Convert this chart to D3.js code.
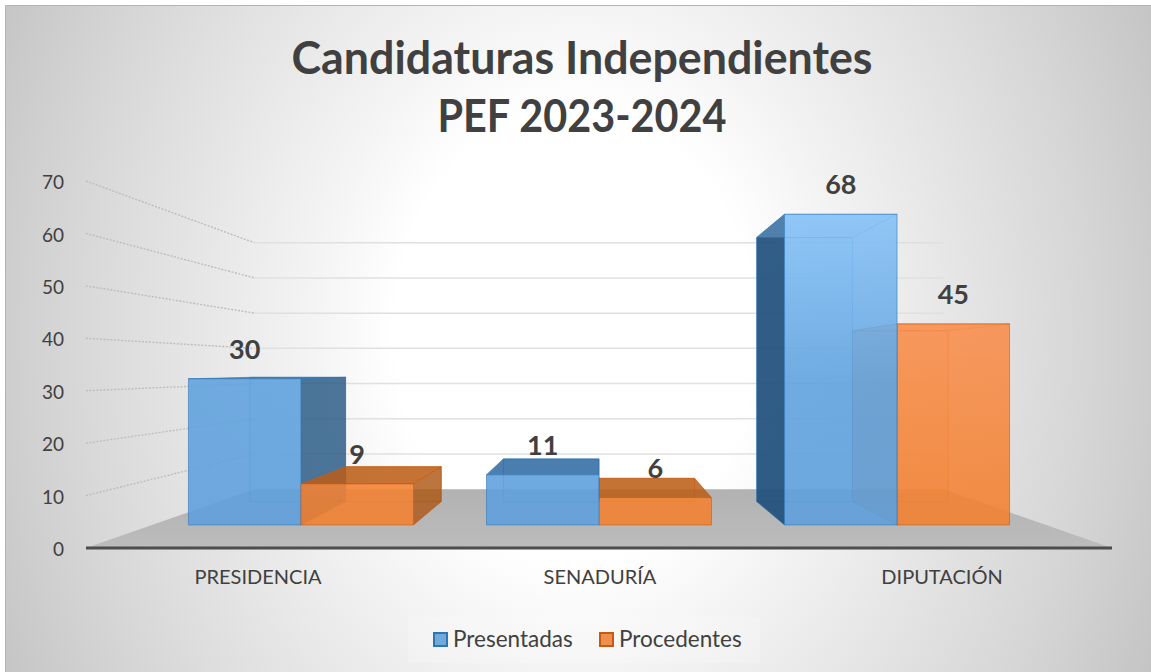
<!DOCTYPE html>
<html>
<head>
<meta charset="utf-8">
<script src="https://cdn.jsdelivr.net/npm/d3@7"></script>
<style>
  html, body { margin: 0; padding: 0; background: #fff; }
  svg { display: block; }
  text { font-family: Lato, "Open Sans", sans-serif; fill: #404040; }
</style>
</head>
<body>
<div id="graph1"></div>
<script>
var titleLines = ["Candidaturas Independientes", "PEF 2023-2024"];
var categories = ["PRESIDENCIA", "SENADURÍA", "DIPUTACIÓN"];
var seriesNames = ["Presentadas", "Procedentes"];
var yTicks = [0, 10, 20, 30, 40, 50, 60, 70];

// printed labels
var presentadas = [30, 11, 68];
var procedentes = [9, 6, 45];
// heights as drawn in the picture (the 30 bar really stands near 32, the 45 near 44)
var presentadasDrawn = [32, 11, 68];
var procedentesDrawn = [9, 6, 44];

function main() {
    var width = 1151, height = 672;

    // fake 3d: everything goes through one vanishing point
    var vx = 599, vy = 369;
    var depth = {front: 1, barFront: 0.8715, barBack: 0.741, wall: 0.672};

    var yWorld = d3.scaleLinear().domain([0, 70]).range([179, -188]);
    var xCat = d3.scaleBand().domain(categories).range([-513, 513])
        .paddingInner(0.245).paddingOuter(0.1225);
    var xSeries = d3.scaleBand().domain(seriesNames).range([0, xCat.bandwidth()]);

    function project(x, v, s) {
        return [vx + x * s, vy + yWorld(v) * s];
    }
    var path = d3.line();

    var svg = d3.select("#graph1").append("svg")
        .attr("width", width)
        .attr("height", height);

    var defs = svg.append("defs");
    var bg = defs.append("radialGradient")
        .attr("id", "bg")
        .attr("gradientUnits", "userSpaceOnUse")
        .attr("cx", 0).attr("cy", 0).attr("r", 1)
        .attr("gradientTransform", "translate(575,335) scale(640,800)");
    [[0, "#ffffff"], [0.28, "#ffffff"], [0.41, "#f4f4f4"], [0.8, "#d6d6d6"], [0.9, "#cdcdcd"], [1, "#c4c4c4"]]
        .forEach(function(s) {
            bg.append("stop").attr("offset", s[0]).attr("stop-color", s[1]);
        });

    var floorFill = defs.append("linearGradient")
        .attr("id", "floorFill").attr("x1", 0).attr("y1", 0).attr("x2", 0).attr("y2", 1);
    floorFill.append("stop").attr("offset", 0).attr("stop-color", "#b2b2b2");
    floorFill.append("stop").attr("offset", 1).attr("stop-color", "#bcbcbc");

    // bars get lighter the higher they go
    function faceGradient(id, stops) {
        var g = defs.append("linearGradient")
            .attr("id", id)
            .attr("gradientUnits", "userSpaceOnUse")
            .attr("x1", 0).attr("y1", 212).attr("x2", 0).attr("y2", 525);
        stops.forEach(function(s) {
            g.append("stop").attr("offset", s[0]).attr("stop-color", s[1]);
        });
    }
    faceGradient("blueFace", [[0, "#85c2f8"], [0.55, "#60a2de"], [1, "#5e9fdc"]]);
    faceGradient("orangeFace", [[0.3, "#f99050"], [1, "#f2802f"]]);

    svg.append("rect")
        .attr("x", 6).attr("y", 5)
        .attr("width", width - 6).attr("height", height - 5)
        .attr("fill", "url(#bg)");
    svg.append("path")
        .attr("d", "M5.5,672V5.5H1151")
        .attr("fill", "none")
        .attr("stroke", "#b4b4b4")
        .attr("stroke-width", 1);

    // title
    var titleWidths = [581, 289];
    svg.selectAll(".title")
        .data(titleLines)
        .enter().append("text")
        .attr("class", "title")
        .attr("x", 582)
        .attr("y", function(d, i) { return 74 + i * 58; })
        .attr("text-anchor", "middle")
        .attr("font-weight", 700)
        .attr("font-size", 45)
        .attr("textLength", function(d, i) { return titleWidths[i]; })
        .attr("lengthAdjust", "spacingAndGlyphs")
        .text(function(d) { return d; });

    var left = xCat.range()[0], right = xCat.range()[1];

    // left wall, dotted
    svg.selectAll(".wallLine")
        .data(yTicks.slice(1))
        .enter().append("path")
        .attr("class", "wallLine")
        .attr("d", function(d) {
            return path([project(left, d, depth.front), project(left, d, depth.wall)]);
        })
        .attr("fill", "none")
        .attr("stroke", "#bdbdbd")
        .attr("stroke-width", 1.4)
        .attr("stroke-dasharray", "2,1.5");

    // back wall
    svg.selectAll(".gridLine")
        .data(yTicks.slice(1))
        .enter().append("path")
        .attr("class", "gridLine")
        .attr("d", function(d) {
            return path([project(left, d, depth.wall), project(right, d, depth.wall)]);
        })
        .attr("fill", "none")
        .attr("stroke", "#e0e0e0")
        .attr("stroke-width", 1.5);

    // floor
    svg.append("path")
        .attr("d", path([
            project(left, 0, depth.front), project(right, 0, depth.front),
            project(right, 0, depth.wall), project(left, 0, depth.wall)
        ]) + "Z")
        .attr("fill", "url(#floorFill)");
    svg.append("path")
        .attr("d", path([project(left, 0, depth.front), project(right, 0, depth.front)]))
        .attr("stroke", "#4d4d4d")
        .attr("stroke-width", 3);

    // bars
    var palette = {
        Presentadas: {face: "url(#blueFace)", swatch: "#5b9bd5", side: "#1f4e79", top: "#2a659c", line: "#2e75b6", rightSide: 0.9},
        Procedentes: {face: "url(#orangeFace)", swatch: "#ed7d31", side: "#a5500f", top: "#b85a14", line: "#c55a11", rightSide: 0.3}
    };

    var bars = [];
    categories.forEach(function(c, i) {
        bars.push({cat: c, name: seriesNames[0], drawn: presentadasDrawn[i], label: presentadas[i]});
        bars.push({cat: c, name: seriesNames[1], drawn: procedentesDrawn[i], label: procedentes[i]});
    });
    bars.forEach(function(b) {
        b.x0 = xCat(b.cat) + xSeries(b.name);
        b.x1 = b.x0 + xSeries.bandwidth();
        b.mid = (b.x0 + b.x1) / 2;
    });
    // far from the centre goes first, so the inner bar lies over it
    bars.sort(function(a, b) { return Math.abs(b.mid) - Math.abs(a.mid); });

    function drawBar(b) {
        var f = depth.barFront, k = depth.barBack, col = palette[b.name];
        var g = svg.append("g");
        function face(pts, fill, alpha, edge) {
            g.append("path")
                .attr("d", path(pts) + "Z")
                .attr("fill", fill)
                .attr("fill-opacity", alpha)
                .attr("stroke", edge ? col.line : "none")
                .attr("stroke-opacity", 0.55)
                .attr("stroke-width", 1);
        }
        var v = b.drawn;
        // back
        face([project(b.x0, 0, k), project(b.x1, 0, k), project(b.x1, v, k), project(b.x0, v, k)], col.face, 0.35, true);
        // floor of the bar
        face([project(b.x0, 0, f), project(b.x1, 0, f), project(b.x1, 0, k), project(b.x0, 0, k)], col.face, 0.25, false);
        // the far side is seen through the front, the near side is dark
        var leftOfCentre = b.mid < 0;
        var outer = leftOfCentre ? b.x0 : b.x1;
        var inner = leftOfCentre ? b.x1 : b.x0;
        face([project(outer, 0, f), project(outer, 0, k), project(outer, v, k), project(outer, v, f)], col.face, 0.25, false);
        if (Math.abs(inner) > 1) {
            face([project(inner, 0, f), project(inner, 0, k), project(inner, v, k), project(inner, v, f)],
                col.side, leftOfCentre ? 0.72 : col.rightSide, true);
        }
        // top
        var topAbove = yWorld(v) > 0;
        face([project(b.x0, v, f), project(b.x1, v, f), project(b.x1, v, k), project(b.x0, v, k)],
            topAbove ? col.top : col.face, topAbove ? 0.8 : 0.35, true);
        // front
        face([project(b.x0, 0, f), project(b.x1, 0, f), project(b.x1, v, f), project(b.x0, v, f)], col.face, 0.85, true);
    }
    bars.forEach(drawBar);

    // value labels
    svg.selectAll(".valueLabel")
        .data(bars)
        .enter().append("text")
        .attr("class", "valueLabel")
        .attr("x", function(d) { return project(d.mid, d.drawn, depth.barFront)[0]; })
        .attr("y", function(d) { return project(d.mid, d.drawn, depth.barFront)[1] - 20; })
        .attr("text-anchor", "middle")
        .attr("font-weight", 700)
        .attr("font-size", 27)
        .text(function(d) { return d.label; });

    // axes
    var yFront = d3.scaleLinear().domain([0, 70]).range([vy + yWorld(0), vy + yWorld(70)]);
    var yAxis = svg.append("g")
        .attr("transform", "translate(64,1.5)")
        .call(d3.axisLeft(yFront).tickValues(yTicks).tickSize(0).tickPadding(0));
    yAxis.select(".domain").remove();
    yAxis.selectAll("text")
        .attr("font-size", 19)
        .attr("font-family", null);

    var xAxis = svg.append("g")
        .attr("transform", "translate(" + (vx + 1) + ",567)")
        .call(d3.axisBottom(xCat).tickSize(0).tickPadding(3));
    xAxis.select(".domain").remove();
    xAxis.selectAll("text")
        .attr("font-size", 20)
        .attr("font-family", null);

    // legend
    svg.append("rect")
        .attr("x", 408).attr("y", 617)
        .attr("width", 352).attr("height", 46)
        .attr("fill", "#ffffff").attr("fill-opacity", 0.2);
    var legendX = d3.scaleOrdinal().domain(seriesNames).range([434, 600]);
    var legend = svg.selectAll(".legendItem")
        .data(seriesNames)
        .enter().append("g")
        .attr("class", "legendItem")
        .attr("transform", function(d) { return "translate(" + legendX(d) + ",633)"; });
    legend.append("rect")
        .attr("width", 13).attr("height", 13)
        .attr("fill", function(d) { return palette[d].swatch; })
        .attr("fill-opacity", 0.85)
        .attr("stroke", function(d) { return palette[d].line; })
        .attr("stroke-width", 2);
    legend.append("text")
        .attr("x", 19)
        .attr("y", 14)
        .attr("font-size", 22.5)
        .text(function(d) { return d; });
}
main();
</script>
</body>
</html>
